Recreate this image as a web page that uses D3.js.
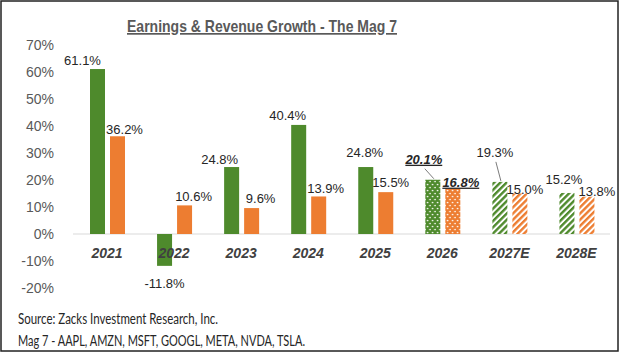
<!DOCTYPE html>
<html>
<head>
<meta charset="utf-8">
<script src="https://cdn.jsdelivr.net/npm/d3@7"></script>
<style>
  body { margin: 0; background: #fff; }
  svg { display: block; }
</style>
</head>
<body>
<div id="chart"></div>
<script>
// data
var categories = ["2021", "2022", "2023", "2024", "2025", "2026", "2027E", "2028E"];
var earnings = [61.1, -11.8, 24.8, 40.4, 24.8, 20.1, 19.3, 15.2];
var revenue = [36.2, 10.6, 9.6, 13.9, 15.5, 16.8, 15.0, 13.8];
var fillStyle = ["solid", "solid", "solid", "solid", "solid", "dots", "stripes", "stripes"];
var yTicks = [70, 60, 50, 40, 30, 20, 10, 0, -10, -20];
var sourceLines = ["Source: Zacks Investment Research, Inc.",
                   "Mag 7 - AAPL, AMZN, MSFT, GOOGL, META, NVDA, TSLA."];
var sourceWidths = [200, 287];

// label nudges (dx, dy from bar end) like the hand-moved Excel labels
var earnNudge = [[-15, -4], [0, 22], [-12, -3], [-11, -5], [-1, -10], [-9, -16], [-5, -25], [-3, -9]];
var revNudge  = [[7, -2], [9, -4], [9, -5], [7, -3], [5, -5], [8, -2], [5, 0], [10, -1]];

var W = 620, H = 353;
var green = "#4e8a2c", orange = "#ed7d31";

var svg = d3.select("#chart").append("svg")
    .attr("width", W).attr("height", H);

// frame
svg.append("rect")
    .attr("x", 1).attr("y", 1).attr("width", 617).attr("height", 350)
    .attr("fill", "#fff").attr("stroke", "#222").attr("stroke-width", 1.5);

var defs = svg.append("defs");
function dotPattern(id, col) {
  var p = defs.append("pattern").attr("id", id)
      .attr("patternUnits", "userSpaceOnUse").attr("width", 5).attr("height", 6);
  p.append("rect").attr("width", 5).attr("height", 6).attr("fill", col);
  p.append("circle").attr("cx", 1.2).attr("cy", 1.5).attr("r", 0.85).attr("fill", "#fff");
  p.append("circle").attr("cx", 3.7).attr("cy", 4.5).attr("r", 0.85).attr("fill", "#fff");
}
function stripePattern(id, col) {
  var p = defs.append("pattern").attr("id", id)
      .attr("patternUnits", "userSpaceOnUse").attr("width", 4.4).attr("height", 10)
      .attr("patternTransform", "rotate(45)");
  p.append("rect").attr("width", 4.4).attr("height", 10).attr("fill", "#fff");
  p.append("rect").attr("width", 2.4).attr("height", 10).attr("fill", col);
}
dotPattern("dotG", green); dotPattern("dotO", orange);
stripePattern("strG", green); stripePattern("strO", orange);

function fillFor(i, col, key) {
  if (fillStyle[i] === "dots") return "url(#dot" + key + ")";
  if (fillStyle[i] === "stripes") return "url(#str" + key + ")";
  return col;
}

// scales
var x0 = d3.scaleBand().domain(categories).range([73.5, 610]);
var x1 = d3.scaleBand().domain(["e", "r"]).range([16.5, 51.5]).paddingInner(0.25);
var y = d3.scaleLinear().domain([-20, 70]).range([288, 45]);

// title (narrow face in the original, so squeeze it)
svg.append("text")
    .attr("x", 127).attr("y", 32)
    .attr("textLength", 270).attr("lengthAdjust", "spacingAndGlyphs")
    .style("font-family", "'Liberation Sans', Arial, sans-serif")
    .style("font-size", "17px").style("font-weight", "bold")
    .style("text-decoration", "underline")
    .attr("fill", "#595959")
    .text("Earnings & Revenue Growth - The Mag 7");

// y axis labels
svg.append("g").selectAll("text")
  .data(yTicks).enter().append("text")
    .attr("x", 54).attr("y", function(d) { return y(d) + 5; })
    .attr("text-anchor", "end")
    .style("font-family", "'Liberation Sans', Arial, sans-serif")
    .style("font-size", "14px")
    .attr("fill", "#595959")
    .text(function(d) { return d + "%"; });

// zero line
svg.append("line")
    .attr("x1", 73).attr("x2", 610)
    .attr("y1", y(0)).attr("y2", y(0))
    .attr("stroke", "#d9d9d9").attr("stroke-width", 1);

var rows = categories.map(function(c, i) {
  return {cat: c, i: i, e: earnings[i], r: revenue[i]};
});

var g = svg.append("g").selectAll("g")
  .data(rows).enter().append("g")
    .attr("transform", function(d) { return "translate(" + x0(d.cat) + ",0)"; });

g.append("rect")
    .attr("x", x1("e")).attr("width", x1.bandwidth())
    .attr("y", function(d) { return y(Math.max(0, d.e)); })
    .attr("height", function(d) { return Math.abs(y(d.e) - y(0)); })
    .attr("fill", function(d) { return fillFor(d.i, green, "G"); });

g.append("rect")
    .attr("x", x1("r")).attr("width", x1.bandwidth())
    .attr("y", function(d) { return y(Math.max(0, d.r)); })
    .attr("height", function(d) { return Math.abs(y(d.r) - y(0)); })
    .attr("fill", function(d) { return fillFor(d.i, orange, "O"); });

// category labels
svg.append("g").selectAll("text")
  .data(categories).enter().append("text")
    .attr("x", function(d) { return x0(d) + x0.bandwidth() / 2; })
    .attr("y", 258)
    .attr("text-anchor", "middle")
    .style("font-family", "'Liberation Sans', Arial, sans-serif")
    .style("font-size", "14px").style("font-weight", "bold").style("font-style", "italic")
    .attr("fill", "#404040")
    .text(function(d) { return d; });

// value labels
function labelStyle(sel) {
  sel.attr("text-anchor", "middle")
    .style("font-family", "'Liberation Sans', Arial, sans-serif")
    .style("font-size", "13px")
    .attr("fill", "#262626")
    .style("font-weight", function(d) { return fillStyle[d.i] === "dots" ? "bold" : "normal"; })
    .style("font-style", function(d) { return fillStyle[d.i] === "dots" ? "italic" : "normal"; })
    .style("text-decoration", function(d) { return fillStyle[d.i] === "dots" ? "underline" : "none"; });
}

g.append("text")
    .attr("x", function(d) { return x1("e") + x1.bandwidth() / 2 + earnNudge[d.i][0]; })
    .attr("y", function(d) { return y(d.e) + earnNudge[d.i][1]; })
    .call(labelStyle)
    .text(function(d) { return d.e.toFixed(1) + "%"; });

g.append("text")
    .attr("x", function(d) { return x1("r") + x1.bandwidth() / 2 + revNudge[d.i][0]; })
    .attr("y", function(d) { return y(d.r) + revNudge[d.i][1]; })
    .call(labelStyle)
    .text(function(d) { return d.r.toFixed(1) + "%"; });

// leader lines where the label was dragged far from its bar
g.filter(function(d) { return earnNudge[d.i][1] < -12; })
  .append("line")
    .attr("x1", function(d) { return x1("e") + x1.bandwidth() / 2 + earnNudge[d.i][0] + 1; })
    .attr("y1", function(d) { return y(d.e) + earnNudge[d.i][1] + 5; })
    .attr("x2", function(d) { return x1("e") + x1.bandwidth() / 2 + 1; })
    .attr("y2", function(d) { return y(d.e) - 1; })
    .attr("stroke", "#595959").attr("stroke-width", 0.8);

// source note (Calibri-like, narrower than Lato)
svg.append("g").selectAll("text")
  .data(sourceLines).enter().append("text")
    .attr("x", 18).attr("y", function(d, i) { return 324 + i * 22; })
    .attr("textLength", function(d, i) { return sourceWidths[i]; })
    .attr("lengthAdjust", "spacingAndGlyphs")
    .style("font-family", "Lato, 'Open Sans', sans-serif")
    .style("font-size", "14.5px")
    .attr("fill", "#262626")
    .text(function(d) { return d; });
</script>
</body>
</html>
